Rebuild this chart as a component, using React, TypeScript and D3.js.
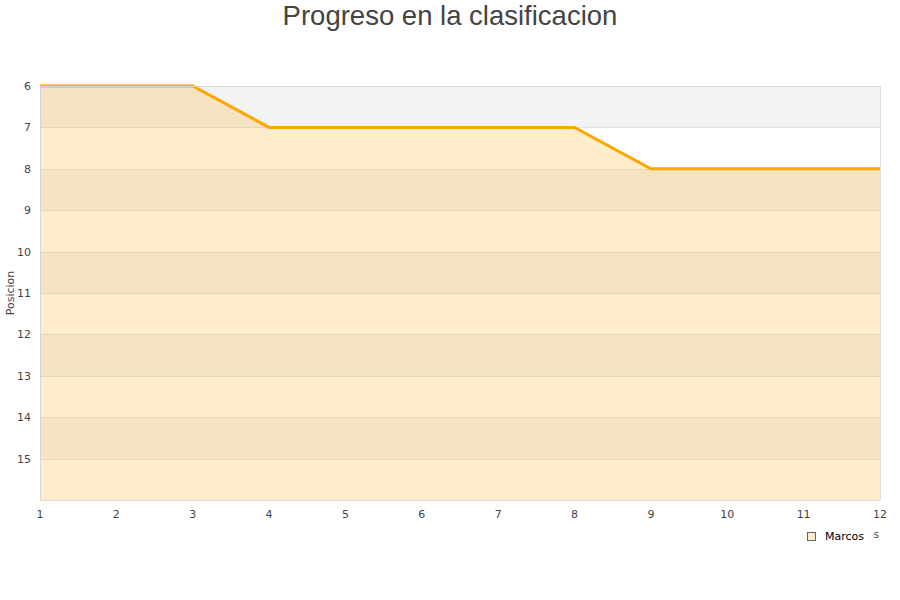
import React from "react";
import * as d3 from "d3";

const jornadas = [1, 2, 3, 4, 5, 6, 7, 8, 9, 10, 11, 12];
const posiciones = [6, 6, 6, 7, 7, 7, 7, 7, 8, 8, 8, 8];
const yTicks = [6, 7, 8, 9, 10, 11, 12, 13, 14, 15];
const serie = "Marcos";
const titulo = "Progreso en la clasificacion";

const W = 900;
const H = 600;
const m = { top: 86, right: 20, bottom: 100, left: 40 };

export default function App() {
  const x = d3
    .scaleLinear()
    .domain([1, 12])
    .range([m.left, W - m.right]);
  const y = d3
    .scaleLinear()
    .domain([6, 16])
    .range([m.top, H - m.bottom]);

  const pts = jornadas.map((j, i) => [j, posiciones[i]] as [number, number]);
  const line = d3
    .line<[number, number]>()
    .x((d) => x(d[0]))
    .y((d) => y(d[1]));
  const area = d3
    .area<[number, number]>()
    .x((d) => x(d[0]))
    .y0(y(16))
    .y1((d) => y(d[1]));

  const bands = d3.range(6, 16);
  const tickFont = "DejaVu Sans, sans-serif";

  return (
    <svg
      width={W}
      height={H}
      style={{ position: "absolute", left: 0, top: 0, background: "#fff" }}
    >
      <text
        x={W / 2}
        y={25}
        textAnchor="middle"
        fontFamily="Liberation Sans, Arial, sans-serif"
        fontSize={27.5}
        fill="#444"
      >
        {titulo}
      </text>

      {/* bandas alternas */}
      {bands.map((b) => (
        <rect
          key={b}
          x={m.left}
          y={y(b)}
          width={x(12) - x(1)}
          height={y(b + 1) - y(b)}
          fill={(b - 6) % 2 === 0 ? "#f3f3f3" : "#ffffff"}
        />
      ))}
      {bands.slice(1).map((b) => (
        <line
          key={b}
          x1={m.left}
          x2={x(12)}
          y1={Math.round(y(b)) + 0.5}
          y2={Math.round(y(b)) + 0.5}
          stroke="#e2e2e2"
        />
      ))}

      <path d={area(pts) ?? ""} fill="rgba(255,165,0,0.2)" />
      <path
        d={line(pts) ?? ""}
        fill="none"
        stroke="#ffa500"
        strokeWidth={3}
      />

      {/* borde */}
      <line x1={m.left} x2={x(12)} y1={m.top + 0.5} y2={m.top + 0.5} stroke="#d6d6d6" />
      <line x1={x(12) + 0.5} x2={x(12) + 0.5} y1={m.top} y2={y(16)} stroke="#dddddd" />
      <line x1={m.left + 0.5} x2={m.left + 0.5} y1={m.top} y2={y(16)} stroke="#d6d6d6" />
      <line x1={m.left} x2={x(12)} y1={y(16) + 0.5} y2={y(16) + 0.5} stroke="#dddddd" />

      {yTicks.map((t) => (
        <text
          key={t}
          x={31}
          y={y(t) + 4}
          textAnchor="end"
          fontFamily={tickFont}
          fontSize={11}
          fill="#444"
        >
          {t}
        </text>
      ))}
      {jornadas.map((j) => (
        <text
          key={j}
          x={x(j)}
          y={518}
          textAnchor="middle"
          fontFamily={tickFont}
          fontSize={11}
          fill="#444"
        >
          {j}
        </text>
      ))}

      <text
        transform={`translate(14,${(m.top + y(16)) / 2}) rotate(-90)`}
        textAnchor="middle"
        fontFamily={tickFont}
        fontSize={11}
        fill="#444"
      >
        Posicion
      </text>

      <text
        x={879}
        y={538}
        textAnchor="end"
        fontFamily={tickFont}
        fontSize={10}
        fill="#444"
      >
        Jornadas
      </text>

      {/* leyenda */}
      <g>
        <rect x={800} y={526} width={73.5} height={22} fill="#fff" />
        <rect x={807.5} y={532.5} width={8} height={8} fill="#feecc9" stroke="#666" />
        <text x={825} y={540} fontFamily={tickFont} fontSize={11} fill="#000">
          {serie}
        </text>
      </g>
    </svg>
  );
}
